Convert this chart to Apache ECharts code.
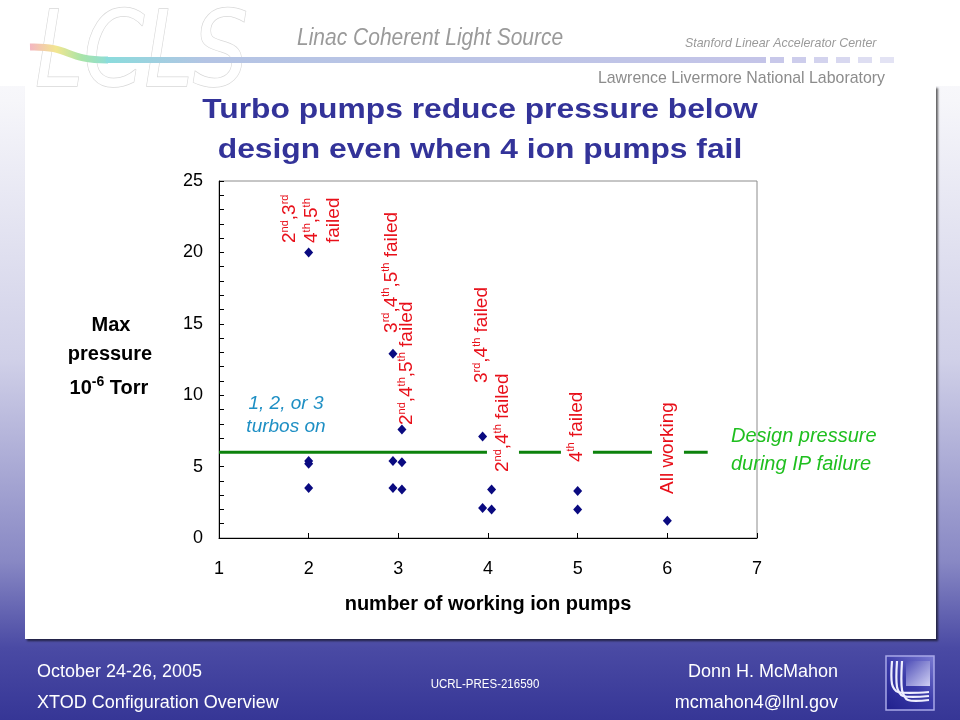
<!DOCTYPE html>
<html><head><meta charset="utf-8">
<script src="https://cdn.jsdelivr.net/npm/echarts@6/dist/echarts.min.js"></script>
<style>html,body{margin:0;padding:0;background:#fff}#c{width:960px;height:720px}</style>
</head><body><div id="c"></div>
<script>
// ---- data ----
const pumpsWorking = [2, 2, 2, 2, 2.94, 2.94, 2.94, 3.04, 3.04, 3.04, 3.94, 3.94, 4.04, 4.04, 5, 5, 6];
const maxPressure  = [20, 5.4, 5.2, 3.5, 12.9, 5.4, 3.5, 7.6, 5.3, 3.4, 7.1, 2.1, 3.4, 2.0, 3.3, 2.0, 1.2];
const designPressure = 6;
const designLineX = [1, 6.45];
const xRange = [1, 7];
const yRange = [0, 25];

const annoText = [
  '2{s|nd},3{s|rd}\n4{s|th},5{s|th}\nfailed',
  '3{s|rd},4{s|th},5{s|th} failed',
  '2{s|nd},4{s|th},5{s|th} failed',
  '3{s|rd},4{s|th} failed',
  '2{s|nd},4{s|th} failed',
  '4{s|th} failed',
  'All working'
];
const annoX = [2.037, 2.929, 3.097, 3.933, 4.167, 4.992, 6.007];
const annoY = [20.66, 14.36, 7.91, 10.85, 4.55, 5.25, 3.01];
const annoOnLine = [false, false, false, false, true, true, true];

const noteText = ['1, 2, or 3\nturbos on', 'Design pressure\nduring IP failure'];
const noteX = [1.747, 6.71];
const noteY = [8.58, 6.16];

// ---- chart ----
const FF = '"Liberation Sans", Arial, sans-serif';
const RED = '#e8101a';
const chart = echarts.init(document.getElementById('c'), null, {renderer: 'canvas'});

const bg = [
  {type: 'rect', z: -20, shape: {x: 0, y: 0, width: 960, height: 720},
   style: {fill: new echarts.graphic.LinearGradient(0, 0, 0, 1, [
     {offset: 0, color: '#ffffff'}, {offset: 0.14, color: '#f6f6fa'},
     {offset: 0.5, color: '#d0d0e8'}, {offset: 0.78, color: '#8888c4'},
     {offset: 0.9, color: '#4a4aa4'}, {offset: 1, color: '#363696'}])}},
  {type: 'rect', z: -19, shape: {x: 25, y: 86, width: 911, height: 553},
   style: {fill: '#ffffff', shadowColor: 'rgba(0,0,0,0.6)', shadowBlur: 2, shadowOffsetX: 2, shadowOffsetY: 2}},
  // header
  {type: 'rect', z: -18, shape: {x: 0, y: 0, width: 960, height: 86}, style: {fill: '#ffffff'}},
  {type: 'text', z: -17, x: 35, y: 59, scaleX: 0.83,
   style: {text: 'LCLS', font: 'italic 105px "DejaVu Sans"', fill: '#ffffff', stroke: '#d8d8d8', lineWidth: 1.5,
           align: 'left', textAlign: 'left', verticalAlign: 'middle', textVerticalAlign: 'middle'}},
  {type: 'bezierCurve', z: -16, shape: {x1: 30, y1: 47, cpx1: 72, cpy1: 46, cpx2: 64, cpy2: 60, x2: 108, y2: 60},
   style: {lineWidth: 7, fill: 'none', stroke: new echarts.graphic.LinearGradient(0, 0, 1, 0, [
     {offset: 0, color: '#f4b0c8'}, {offset: 0.35, color: '#f2e690'}, {offset: 0.65, color: '#a8e4a8'}, {offset: 1, color: '#8adcdc'}])}},
  {type: 'rect', z: -16, shape: {x: 106, y: 57, width: 660, height: 6},
   style: {fill: new echarts.graphic.LinearGradient(0, 0, 1, 0, [
     {offset: 0, color: '#8adcdc'}, {offset: 0.15, color: '#b4c4e4'}, {offset: 1, color: '#c4c4e8'}])}},
  ...[770, 792, 814, 836, 858, 880].map((x, i) => ({type: 'rect', z: -16, shape: {x: x, y: 57, width: 14, height: 6},
     style: {fill: '#c8c8ea', opacity: 1 - i * 0.1}})),
  {type: 'text', z: -15, x: 297, y: 38, scaleY: 1.12,
   style: {text: 'Linac Coherent Light Source', font: 'italic 21px "Liberation Sans"', fill: '#9a9a9a',
           align: 'left', textAlign: 'left', verticalAlign: 'middle', textVerticalAlign: 'middle'}},
  {type: 'text', z: -15, x: 685, y: 43, scaleY: 1.1,
   style: {text: 'Stanford Linear Accelerator Center', font: 'italic 12.4px "Liberation Sans"', fill: '#9a9a9a',
           align: 'left', textAlign: 'left', verticalAlign: 'middle', textVerticalAlign: 'middle'}},
  {type: 'text', z: -15, x: 885, y: 78, scaleY: 1.08,
   style: {text: 'Lawrence Livermore National Laboratory', font: '15.9px "Liberation Sans"', fill: '#8c8c8c',
           align: 'right', textAlign: 'right', verticalAlign: 'middle', textVerticalAlign: 'middle'}},
  // title
  {type: 'text', z: 10, x: 480, y: 110, scaleX: 1.135,
   style: {text: 'Turbo pumps reduce pressure below', font: 'bold 28px "Liberation Sans"', fill: '#333399',
           align: 'center', textAlign: 'center', verticalAlign: 'middle', textVerticalAlign: 'middle'}},
  {type: 'text', z: 10, x: 480, y: 150, scaleX: 1.135,
   style: {text: 'design even when 4 ion pumps fail', font: 'bold 28px "Liberation Sans"', fill: '#333399',
           align: 'center', textAlign: 'center', verticalAlign: 'middle', textVerticalAlign: 'middle'}},
  // y axis name
  {type: 'text', z: 10, x: 111, y: 325,
   style: {text: 'Max', font: 'bold 20px "Liberation Sans"', fill: '#000',
           align: 'center', textAlign: 'center', verticalAlign: 'middle', textVerticalAlign: 'middle'}},
  {type: 'text', z: 10, x: 110, y: 354,
   style: {text: 'pressure', font: 'bold 20px "Liberation Sans"', fill: '#000',
           align: 'center', textAlign: 'center', verticalAlign: 'middle', textVerticalAlign: 'middle'}},
  {type: 'text', z: 10, x: 109, y: 388,
   style: {text: '10{s|-6} Torr', font: 'bold 20px "Liberation Sans"', fill: '#000', lineHeight: 26,
           rich: {s: {fontSize: 14, fontWeight: 'bold', fontFamily: 'Liberation Sans', verticalAlign: 'top', lineHeight: 12, fill: '#000', color: '#000'}},
           align: 'center', textAlign: 'center', verticalAlign: 'middle', textVerticalAlign: 'middle'}},
  // footer
  ...[
    ['October 24-26, 2005', 37, 672, 'left', 18],
    ['XTOD Configuration Overview', 37, 703, 'left', 18],
    ['UCRL-PRES-216590', 485, 685, 'center', 11.5],
    ['Donn H. McMahon', 838, 672, 'right', 18],
    ['mcmahon4@llnl.gov', 838, 703, 'right', 18]
  ].map(t => ({type: 'text', z: -10, x: t[1], y: t[2], scaleY: 1.05,
    style: {text: t[0], font: t[4] + 'px "Liberation Sans"', fill: '#ffffff',
            align: t[3], textAlign: t[3], verticalAlign: 'middle', textVerticalAlign: 'middle'}})),
  // footer logo
  {type: 'rect', z: -10, shape: {x: 886, y: 656, width: 48, height: 54},
   style: {fill: new echarts.graphic.LinearGradient(1, 0, 0, 1, [
     {offset: 0, color: '#7c7cd4'}, {offset: 0.5, color: '#3a3aa8'}, {offset: 1, color: '#20208c'}]),
     stroke: '#a8a8e8', lineWidth: 1.5}},
  {type: 'rect', z: -9, shape: {x: 906, y: 661, width: 24, height: 25},
   style: {fill: new echarts.graphic.LinearGradient(0, 0, 1, 1, [
     {offset: 0, color: '#5050b8'}, {offset: 1, color: '#d0d0f4'}])}},
  ...[0, 1, 2].map(i => ({type: 'polyline', z: -8,
    shape: {points: [[892 + i * 5, 661], [892 + i * 5, 684 + i * 3], [898 + i * 5, 692 + i * 4], [929, 692 + i * 4]], smooth: 0.3},
    style: {stroke: '#eeeeff', lineWidth: 2.2, fill: 'none'}}))
];

const labelBase = {
  show: true, position: 'inside', rotate: 90, align: 'left', verticalAlign: 'middle',
  color: RED, fontSize: 19, fontFamily: FF, lineHeight: 22, opacity: 1,
  rich: {s: {fontSize: 11, fontFamily: FF, color: RED, verticalAlign: 'top', lineHeight: 10}}
};

const option = {
  backgroundColor: 'transparent',
  animation: false,
  graphic: {elements: bg},
  grid: {left: 219, right: 203, top: 181, bottom: 182, show: true, borderColor: '#8c8c8c', borderWidth: 1, backgroundColor: 'transparent'},
  xAxis: {
    type: 'value', min: xRange[0], max: xRange[1], interval: 1,
    axisLine: {show: true, onZero: false, lineStyle: {color: '#000', width: 1}},
    axisTick: {show: true, inside: true, length: 5, lineStyle: {color: '#000'}},
    axisLabel: {color: '#000', fontSize: 18, margin: 22, fontFamily: FF},
    splitLine: {show: false},
    name: 'number of working ion pumps', nameLocation: 'middle', nameGap: 56,
    nameTextStyle: {fontWeight: 'bold', fontSize: 20, color: '#000', fontFamily: FF}
  },
  yAxis: {
    type: 'value', min: yRange[0], max: yRange[1], interval: 5,
    axisLine: {show: true, onZero: false, lineStyle: {color: '#000', width: 1}},
    axisTick: {show: true, inside: true, length: 5, lineStyle: {color: '#000'}},
    minorTick: {show: true, splitNumber: 5, length: 5, lineStyle: {color: '#000'}},
    axisLabel: {color: '#000', fontSize: 18, margin: 16, fontFamily: FF},
    splitLine: {show: false}, minorSplitLine: {show: false}
  },
  series: [
    {
      type: 'line', silent: true, z: 1, symbol: 'none',
      data: designLineX.map(x => [x, designPressure]),
      lineStyle: {color: '#0c820c', width: 3, opacity: 1}
    },
    {
      type: 'scatter', silent: true, z: 3, symbol: 'diamond', symbolSize: [9, 10],
      itemStyle: {color: '#0a0a80', opacity: 1},
      data: pumpsWorking.map((x, i) => [x, maxPressure[i]])
    },
    {
      type: 'scatter', silent: true, z: 5, symbolSize: 0.1,
      itemStyle: {color: 'rgba(0,0,0,0)', opacity: 1},
      label: labelBase,
      data: annoX.map((x, i) => ({
        value: [x, annoY[i]],
        label: annoOnLine[i] ? {backgroundColor: '#ffffff', padding: [5, 1, 5, 1], formatter: annoText[i]}
                             : {formatter: annoText[i]}
      }))
    },
    {
      type: 'scatter', silent: true, z: 5, symbolSize: 0.1,
      itemStyle: {color: 'rgba(0,0,0,0)', opacity: 1},
      data: [
        {value: [noteX[0], noteY[0]], label: {show: true, position: 'inside', formatter: noteText[0], align: 'center', verticalAlign: 'middle',
          color: '#1e8fc4', fontSize: 19, fontStyle: 'italic', fontFamily: FF, lineHeight: 23, opacity: 1}},
        {value: [noteX[1], noteY[1]], label: {show: true, position: 'inside', formatter: noteText[1], align: 'left', verticalAlign: 'middle',
          color: '#1fbf1f', fontSize: 20, fontStyle: 'italic', fontFamily: FF, lineHeight: 28, opacity: 1}}
      ]
    }
  ]
};
chart.setOption(option);
</script>
</body></html>
